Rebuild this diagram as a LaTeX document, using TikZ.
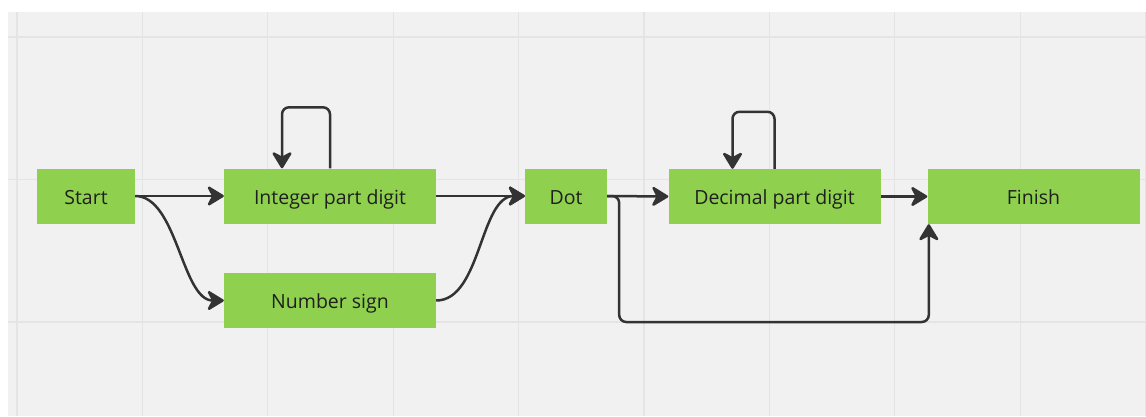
\documentclass[tikz,border=0pt]{standalone}
\usepackage{fontspec}
\setmainfont{Open Sans}
\usepackage{tikz}
\usetikzlibrary{arrows.meta, calc}
\usepackage{xcolor}
\definecolor{verde}{HTML}{8FD14F}
\definecolor{sfondo}{HTML}{F1F1F1}
\definecolor{griglia}{HTML}{E4E4E4}
\definecolor{scuro}{HTML}{333333}
\definecolor{testo}{HTML}{1F1F1F}

\begin{document}
\begin{tikzpicture}[x = 1pt, y = -1pt,
    stato/.style = {fill = verde, draw = none, minimum height = 55, inner sep = 0pt,
        text height = 20pt, text depth = 4pt,
        text = testo, font = \fontsize{19.5}{23}\selectfont},
    freccia/.style = {draw = scuro, line width = 2.5pt, rounded corners = 7pt,
        -{Stealth[length = 19pt, width = 23pt, inset = 6pt, round]}}]
    % parametri
    \pgfmathsetmacro{\passox}{125.4}
    \pgfmathsetmacro{\passoy}{142.5}
    \useasboundingbox (0,0) rectangle (1146,416);
    % Griglia
    \fill[sfondo] (8,12) rectangle (1146,416);
    \foreach \i in {0,...,9}
        \draw[griglia, line width = 1.2pt] (17+\i*\passox,12) -- (17+\i*\passox,416);
    \foreach \j in {0,1,2}
        \draw[griglia, line width = 1.2pt] (8,37+\j*\passoy) -- (1146,37+\j*\passoy);
    % Stati
    \node[stato, minimum width = 98] (inizio) at (86,196) {Start};
    \node[stato, minimum width = 212] (intero) at (330,196) {Integer part digit};
    \node[stato, minimum width = 212] (segno) at (330,300.5) {Number sign};
    \node[stato, minimum width = 82] (dot) at (566,196) {Dot};
    \node[stato, minimum width = 212] (decimale) at (774.5,196.5) {Decimal part digit};
    \node[stato, minimum width = 212] (fine) at (1033.5,196.5) {Finish};
    % Frecce
    \draw[freccia] (inizio.east) -- (intero.west);
    \draw[freccia] (inizio.east) .. controls +(42,0) and +(-42,0) .. (segno.west);
    \draw[freccia] (intero.east) -- (dot.west);
    \draw[freccia] (segno.east) .. controls +(45,0) and +(-45,0) .. (dot.west);
    \draw[freccia] (intero.north) -- ++(0,-61) -| ([xshift = -48pt]intero.north);
    \draw[freccia] (dot.east) -- (decimale.west);
    \draw[freccia] (decimale.north) -- ++(0,-57) -| ([xshift = -42pt]decimale.north);
    \draw[freccia] (decimale.east) -- (fine.west);
    % salto diretto a Finish
    \draw[freccia] (dot.east) -- ++(12,0) -- ++(0,126) -| ([xshift = 1.5pt]fine.south west);
\end{tikzpicture}
\end{document}
